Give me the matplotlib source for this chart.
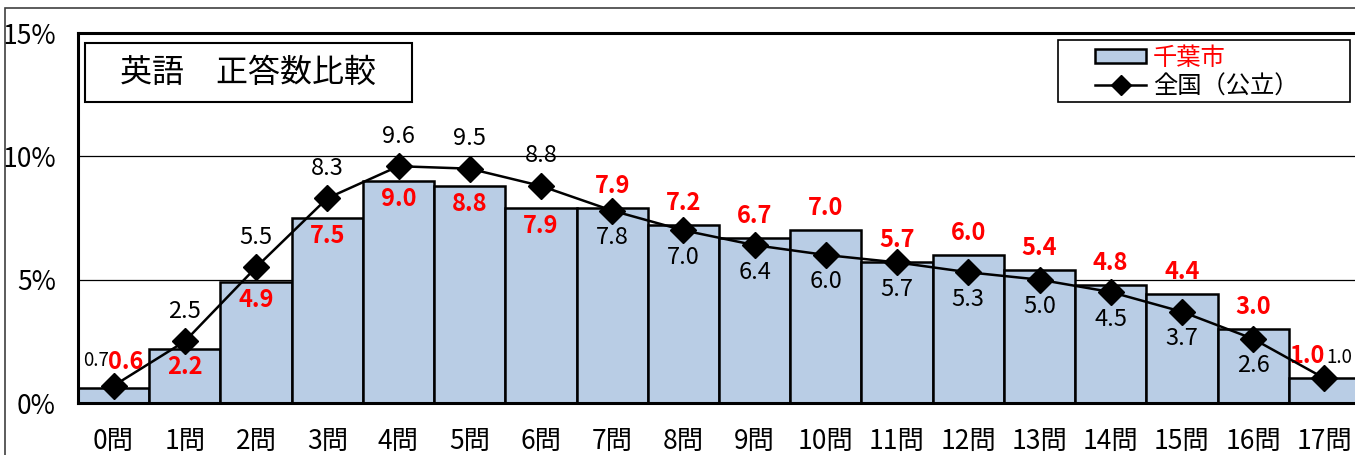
import matplotlib
matplotlib.use("Agg")
import matplotlib.pyplot as plt
from matplotlib.patches import Rectangle, Patch
from matplotlib.lines import Line2D

categories = [f"{i}問" for i in range(18)]
chiba = [0.6, 2.2, 4.9, 7.5, 9.0, 8.8, 7.9, 7.9, 7.2, 6.7, 7.0, 5.7, 6.0, 5.4, 4.8, 4.4, 3.0, 1.0]
national = [0.7, 2.5, 5.5, 8.3, 9.6, 9.5, 8.8, 7.8, 7.0, 6.4, 6.0, 5.7, 5.3, 5.0, 4.5, 3.7, 2.6, 1.0]
yticks = [0, 5, 10, 15]
ytick_labels = ["0%", "5%", "10%", "15%"]
title = "英語　正答数比較"
legend_labels = ["千葉市", "全国（公立）"]

NUM = ["Noto Sans CJK JP", "DejaVu Sans"]
CJK = ["Noto Sans CJK JP", "DejaVu Sans"]
PX = 0.72  # points per pixel at dpi 100

W, H = 1355, 455
fig = plt.figure(figsize=(W / 100, H / 100), dpi=100)

# outer border
fig.add_artist(Rectangle((5 / W, -0.1), 1.2, 1 - 8 / H + 0.1, transform=fig.transFigure,
                         fill=False, edgecolor="#404040", linewidth=1.2))

ax = fig.add_axes([78 / W, 1 - 403 / H, (1360 - 78) / W, (403 - 33) / H])
x = list(range(len(categories)))
ax.bar(x, chiba, width=1.0, color="#B9CDE5", edgecolor="black", linewidth=1.8, zorder=2)
ax.plot(x, national, color="black", linewidth=1.8, marker="D", markersize=13,
        markerfacecolor="black", markeredgecolor="black", zorder=4)

ax.set_xlim(-0.5, len(categories) - 0.5)
ax.set_ylim(0, 15)
ax.set_yticks(yticks)
ax.set_yticklabels(ytick_labels, fontfamily=NUM, fontsize=19)
ax.set_xticks(x)
ax.set_xticklabels(categories, fontfamily=NUM, fontsize=19)
ax.tick_params(axis="both", length=0)
ax.tick_params(axis="y", pad=16)
ax.tick_params(axis="x", pad=18)
ax.grid(axis="y", color="black", linewidth=0.9, zorder=0)
ax.set_axisbelow(True)
for s in ax.spines.values():
    s.set_linewidth(2.2)
ax.spines["right"].set_visible(False)

FS = 17
# data labels
for i, (c, n) in enumerate(zip(chiba, national)):
    if i == 0:
        ax.annotate(f"{n:.1f}", (i, n), xytext=(-18 * PX, 25 * PX), textcoords="offset points",
                    ha="center", va="center", fontsize=13.5, fontfamily=NUM)
        ax.annotate(f"{c:.1f}", (i, c), xytext=(12 * PX, 26 * PX), textcoords="offset points",
                    ha="center", va="center", fontsize=FS, fontweight="bold", color="red", fontfamily=NUM)
    elif i == len(chiba) - 1:
        ax.annotate(f"{c:.1f}", (i, c), xytext=(-18 * PX, 22 * PX), textcoords="offset points",
                    ha="center", va="center", fontsize=FS, fontweight="bold", color="red", fontfamily=NUM)
        ax.annotate(f"{n:.1f}", (i, n), xytext=(15 * PX, 21 * PX), textcoords="offset points",
                    ha="center", va="center", fontsize=13.5, fontfamily=NUM)
    elif n > c:
        ax.annotate(f"{n:.1f}", (i, n), xytext=(0, 30 * PX), textcoords="offset points",
                    ha="center", va="center", fontsize=FS, fontfamily=NUM)
        ax.annotate(f"{c:.1f}", (i, c), xytext=(0, -18 * PX), textcoords="offset points",
                    ha="center", va="center", fontsize=FS, fontweight="bold", color="red", fontfamily=NUM)
    else:
        ax.annotate(f"{c:.1f}", (i, c), xytext=(0, 22 * PX), textcoords="offset points",
                    ha="center", va="center", fontsize=FS, fontweight="bold", color="red", fontfamily=NUM)
        ax.annotate(f"{n:.1f}", (i, n), xytext=(0, -27 * PX), textcoords="offset points",
                    ha="center", va="center", fontsize=FS, fontfamily=NUM)

# title box
fig.add_artist(Rectangle((85 / W, 1 - 102 / H), (412 - 85) / W, (102 - 43) / H,
                         transform=fig.transFigure, facecolor="white", edgecolor="black",
                         linewidth=1.5, zorder=5))
fig.text((85 + 412) / 2 / W, 1 - 73 / H, title, ha="center", va="center",
         fontsize=23, fontfamily=CJK, zorder=6)

# legend
fig.add_artist(Rectangle((1058 / W, 1 - 102 / H), (1350 - 1058) / W, (102 - 40) / H,
                         transform=fig.transFigure, facecolor="white", edgecolor="black",
                         linewidth=1.2, zorder=5))
handles = [Patch(facecolor="#B9CDE5", edgecolor="black", linewidth=1.8),
           Line2D([], [], color="black", linewidth=1.8, marker="D", markersize=10)]
leg = fig.legend(handles, legend_labels, loc="center left",
                 bbox_to_anchor=(1095 / W, 1 - 72 / H), bbox_transform=fig.transFigure,
                 prop={"family": CJK, "size": 17.5}, frameon=False,
                 borderpad=0, labelspacing=0.12, handlelength=2.1, handleheight=0.55,
                 handletextpad=0.28, borderaxespad=0)
leg.set_zorder(6)
leg.get_texts()[0].set_color("red")

fig.savefig("out.png", dpi=100)
